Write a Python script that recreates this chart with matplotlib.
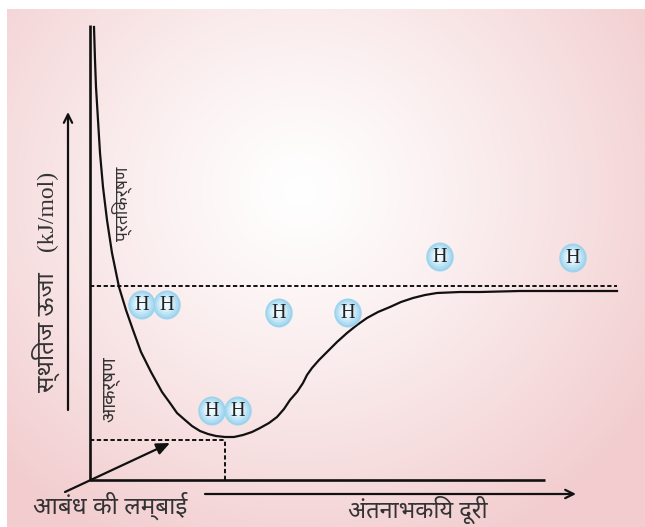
import numpy as np
import matplotlib
matplotlib.use("Agg")
import matplotlib.pyplot as plt
from matplotlib.patches import Ellipse

# potential energy curve (chart units, origin at the axes corner)
r_curve = [4, 5, 6, 8, 10, 13, 17, 22, 29, 36, 43, 51, 61, 72, 80, 87, 95, 102, 110,
           118, 126, 135, 144, 153, 162, 170, 179, 187, 194, 200, 207, 213, 217, 222,
           229, 237, 247, 257, 267, 277, 288, 300, 311, 323, 335, 347, 370, 390, 430,
           470, 527]
E_curve = [453, 420, 393, 360, 327, 293, 260, 227, 193, 170, 150, 128, 108, 88, 77, 67,
           60, 54, 49, 46, 44, 43, 43, 45, 48, 52, 57, 63, 71, 80, 88, 97, 105, 112,
           120, 128, 138, 147, 155, 162, 168, 173, 178, 182, 185, 187, 188, 188, 189,
           189, 189]

E_dissoc = 194      # dashed level of separated atoms
E_min = 40          # dashed level of the well bottom
r_eq = 135          # bond length
r_dissoc_end = 527
axis_top = 455
axis_right = 455

# hydrogen atoms drawn along the curve
atom_r = [52, 77, 189, 258, 350, 483, 122, 148]
atom_E = [175, 175, 167, 167, 223, 222, 69, 69]

ylabel_hi = "स्थितज ऊजा"
ylabel_unit = "(kJ/mol)"
repulsion = "प्रतिकर्षण"
attraction = "आकर्षण"
bond_label = "आबंध की लम्बाई"
xlabel = "अंतनाभकिय दूरी"

deva = ["Noto Sans Devanagari", "Noto Sans Devanagari UI", "Hind", "DejaVu Sans"]
serif = ["Liberation Serif", "DejaVu Serif"]
ink = "#111111"
txt = "#333333"

fig = plt.figure(figsize=(6.45, 5.27), dpi=100)
ax = fig.add_axes([0, 0, 1, 1])
ax.set_xlim(-90, 555)
ax.set_ylim(-47, 480)
ax.axis("off")

# radial pink -> white background
H, W = 518, 638
yy, xx = np.mgrid[0:H, 0:W]
d = np.hypot(xx + 7 - 300, (yy + 9 - 190) * 1.05)
t = np.clip(d / 420, 0, 1) ** 1.2
pink = np.array([242, 204, 206]) / 255
img = 1 - (1 - pink)[None, None, :] * t[:, :, None]
ax.imshow(img, extent=(-83, 555, -47, 471), origin="upper", aspect="auto", zorder=0)

# axes lines
ax.plot([0, 0], [-1, axis_top], color=ink, lw=1.9, solid_capstyle="butt", zorder=2)
ax.plot([0, axis_right], [0, 0], color=ink, lw=1.9, solid_capstyle="butt", zorder=2)

# dashed guides
dash = (0, (2.2, 1.3))
ax.plot([0, r_dissoc_end], [E_dissoc, E_dissoc], color=ink, lw=1.4, ls=dash, zorder=2)
ax.plot([0, r_eq], [E_min, E_min], color=ink, lw=1.4, ls=dash, zorder=2)
ax.plot([r_eq, r_eq], [0, E_min], color=ink, lw=1.4, ls=dash, zorder=2)

# curve
ax.plot(r_curve, E_curve, color=ink, lw=1.6, solid_joinstyle="round", zorder=3)

# arrows
ax.annotate("", xy=(80, 37), xytext=(-25, -12),
            arrowprops=dict(arrowstyle="-|>,head_length=0.8,head_width=0.35",
                            color=ink, lw=1.6, shrinkA=0, shrinkB=0), zorder=3)
ax.annotate("", xy=(-22, 368), xytext=(-22, 70),
            arrowprops=dict(arrowstyle="->,head_length=0.6,head_width=0.3",
                            color=ink, lw=1.6, shrinkA=0, shrinkB=0), zorder=3)
ax.annotate("", xy=(486, -14), xytext=(115, -14),
            arrowprops=dict(arrowstyle="->,head_length=0.6,head_width=0.3",
                            color=ink, lw=1.6, shrinkA=0, shrinkB=0), zorder=3)

# hydrogen atoms: layered ellipses for a soft radial shade
shades = ["#9cd4ee", "#b0ddf2", "#c4e6f6", "#d6eff9", "#e6f6fc", "#f1fbfe"]
for r, E in zip(atom_r, atom_E):
    for k, c in enumerate(shades):
        s = 1 - k * 0.15
        ax.add_patch(Ellipse((r - k * 0.3, E + k * 0.3), 27.5 * s, 29 * s,
                             facecolor=c, edgecolor="none", zorder=4 + k * 0.01))
    ax.text(r, E - 0.5, "H", family=serif, fontsize=14.5, color="#222222",
            ha="center", va="center", zorder=5)

# labels
ax.text(-44, 148, ylabel_hi, family=deva, fontsize=17.5, color=txt, rotation=90,
        ha="center", va="center", zorder=5)
ax.text(-43, 269, ylabel_unit, family=serif, fontsize=17, color=txt, rotation=90,
        ha="center", va="center", zorder=5)
ax.text(32, 276, repulsion, family=deva, fontsize=12.5, color=txt, rotation=90,
        ha="center", va="center", zorder=5)
ax.text(20, 91, attraction, family=deva, fontsize=13.5, color=txt, rotation=90,
        ha="center", va="center", zorder=5)
ax.text(20, -26, bond_label, family=deva, fontsize=17.5, color=txt,
        ha="center", va="center", zorder=5)
ax.text(328, -30, xlabel, family=deva, fontsize=17, color=txt,
        ha="center", va="center", zorder=5)

fig.savefig("out.png", dpi=100, facecolor="white")
